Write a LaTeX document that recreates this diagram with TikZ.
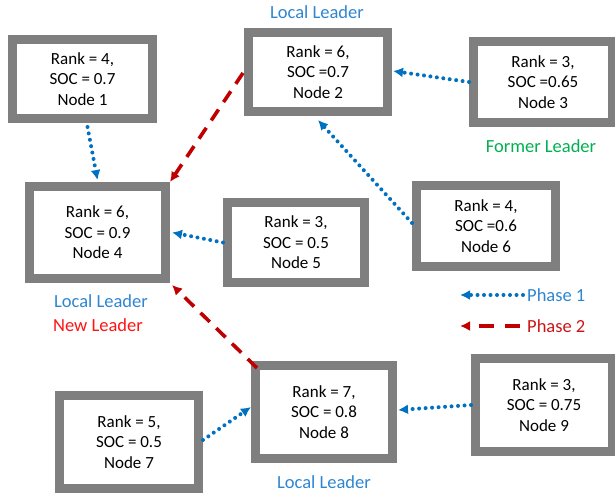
\documentclass[tikz,border=0pt]{standalone}
\usepackage{fontspec}
\setmainfont{Carlito}
\usetikzlibrary{arrows.meta}
\definecolor{boxgray}{RGB}{127,127,127}
\definecolor{arrblue}{RGB}{0,112,192}
\definecolor{txtblue}{RGB}{46,134,209}
\definecolor{arrred}{RGB}{192,0,0}
\definecolor{txtred}{RGB}{255,20,20}
\definecolor{ph2red}{RGB}{205,20,20}
\definecolor{txtgreen}{RGB}{0,176,80}
\begin{document}
\begin{tikzpicture}[x=1pt,y=-1pt,
  nodebox/.style={draw=boxgray,line width=9pt,fill=white,align=center,inner sep=0pt,
    font=\fontsize{17}{20.5}\selectfont},
  lbl/.style={font=\fontsize{18.5}{22}\selectfont,inner sep=0pt},
  phaseone/.style={draw=arrblue,line width=4pt,line cap=round,dash pattern=on 0pt off 6.5pt,
    -{Latex[length=10pt,width=10pt]}},
  phasetwo/.style={draw=arrred,line width=3.6pt,dash pattern=on 13pt off 9pt,
    -{Latex[length=10pt,width=10pt]}}]
\useasboundingbox (0,0) rectangle (615,495);
\node[nodebox,minimum width=140pt,minimum height=79pt] (N1) at (82.5,79) {Rank = 4,\\SOC = 0.7\\Node 1};
\node[nodebox,minimum width=139pt,minimum height=79pt] (N2) at (318,72) {Rank = 6,\\SOC =0.7\\Node 2};
\node[nodebox,minimum width=139pt,minimum height=81pt] (N3) at (543,82) {Rank = 3,\\SOC =0.65\\Node 3};
\node[nodebox,minimum width=136pt,minimum height=92pt] (N4) at (97.5,232.5) {Rank = 6,\\SOC = 0.9\\Node 4};
\node[nodebox,minimum width=137pt,minimum height=80pt] (N5) at (296,242.5) {Rank = 3,\\SOC = 0.5\\Node 5};
\node[nodebox,minimum width=139pt,minimum height=81pt] (N6) at (486,226) {Rank = 4,\\SOC =0.6\\Node 6};
\node[nodebox,minimum width=139pt,minimum height=93pt] (N7) at (129,442) {Rank = 5,\\SOC = 0.5\\Node 7};
\node[nodebox,minimum width=137pt,minimum height=93pt] (N8) at (324,412) {Rank = 7,\\SOC = 0.8\\Node 8};
\node[nodebox,minimum width=137pt,minimum height=93pt] (N9) at (544,405) {Rank = 3,\\SOC = 0.75\\Node 9};

\node[lbl,text=txtblue] (T2) at (317,12) {Local Leader};
\node[lbl,text=txtgreen] (T3) at (541,146) {Former Leader};
\node[lbl,text=txtblue] (T4a) at (101,301) {Local Leader};
\node[lbl,text=txtred] (T4b) at (98,325) {New Leader};
\node[lbl,text=txtblue] (T8) at (324,482) {Local Leader};

\draw[phaseone] ([xshift=5pt,yshift=-4pt]N1.south) -- ([yshift=2pt]N4.north);
\draw[phaseone] (N3.west) -- ([xshift=1pt,yshift=1pt]N2.east);
\draw[phaseone] ([yshift=3pt]N6.west) -- ([yshift=-4pt]N2.south);
\draw[phaseone] (N5.west) -- ([xshift=2pt]N4.east);
\draw[phaseone] ([yshift=2pt]N7.east) -- ([yshift=5pt]N8.west);
\draw[phaseone] (N9.west) -- ([xshift=1pt,yshift=2pt]N8.east);
\draw[phasetwo] ([xshift=-1pt,yshift=-1pt]N2.west) -- (N4.north east);
\draw[phasetwo] ([xshift=6pt,yshift=-7pt]N8.north west) -- ([xshift=2pt,yshift=-2pt]N4.south east);

\coordinate (P1a) at (523,295);
\coordinate (P1b) at (460,295);
\coordinate (P2a) at (520,326);
\coordinate (P2b) at (460,326);
\draw[phaseone] (P1a) -- (P1b);
\draw[phasetwo,dash pattern=on 15pt off 11pt] (P2a) -- (P2b);
\node[lbl,text=txtblue,anchor=west] (PH1) at (527,295) {Phase 1};
\node[lbl,text=ph2red,anchor=west] (PH2) at (527,326) {Phase 2};
\end{tikzpicture}
\end{document}
